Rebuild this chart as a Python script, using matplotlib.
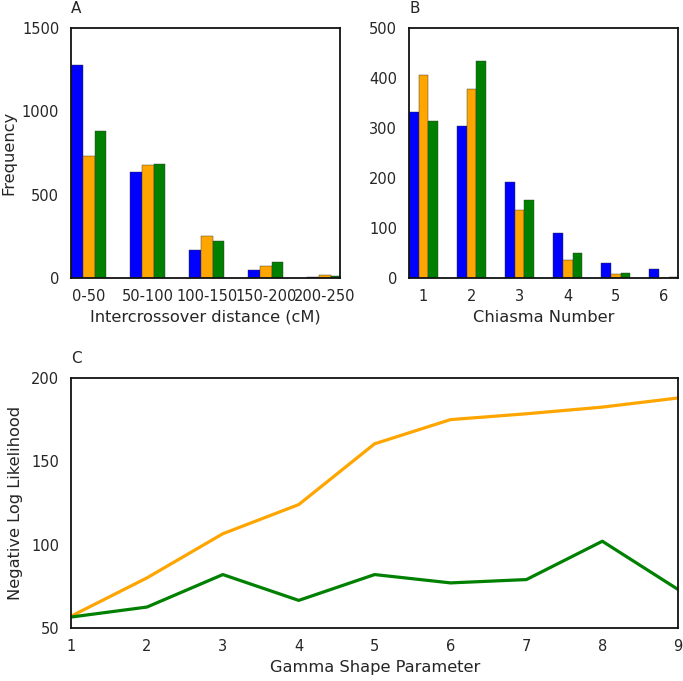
import matplotlib
matplotlib.use("Agg")
import matplotlib.pyplot as plt
import numpy as np

# panel A: intercrossover distance histogram
dist_bins = ['0-50', '50-100', '100-150', '150-200', '200-250']
dist_blue = [1280, 636, 166, 50, 6]
dist_orange = [734, 678, 252, 74, 18]
dist_green = [884, 682, 224, 98, 12]

# panel B: chiasma number
chiasma = [1, 2, 3, 4, 5, 6]
chi_blue = [331, 303, 191, 89, 29, 18]
chi_orange = [406, 378, 135, 35, 8, 0]
chi_green = [314, 433, 156, 49, 9, 2]

# panel C: gamma shape parameter
shape = [1, 2, 3, 4, 5, 6, 7, 8, 9]
nll_orange = [57, 80, 106.5, 124, 160.5, 175, 178.5, 182.5, 188]
nll_green = [56.5, 62.5, 82, 66.5, 82, 77, 79, 102, 73]

blue = '#0000ff'
orange = '#ffa500'
green = '#008000'
txt = '#262626'
fs_tick = 10.5
fs_lab = 11.7

plt.rcParams['font.family'] = 'DejaVu Sans'
plt.rcParams['text.color'] = txt
plt.rcParams['xtick.color'] = txt
plt.rcParams['ytick.color'] = txt
plt.rcParams['axes.labelcolor'] = txt

fig = plt.figure(figsize=(6.83, 6.81), dpi=100)

def style(ax, letter):
    for s in ax.spines.values():
        s.set_linewidth(1.3)
        s.set_color('#111111')
    ax.tick_params(axis='y', length=0, labelsize=fs_tick, pad=8.5)
    ax.tick_params(axis='x', length=0, labelsize=fs_tick, pad=8)
    ax.text(0.0, 1.06, letter, transform=ax.transAxes, fontsize=11, va='baseline')

w = 0.2

# A
axA = fig.add_axes([0.104, 0.592, 0.394, 0.367])
x = np.arange(len(dist_bins))
axA.bar(x - w, dist_blue, w, color=blue, edgecolor='#333333', linewidth=0.3)
axA.bar(x, dist_orange, w, color=orange, edgecolor='#333333', linewidth=0.3)
axA.bar(x + w, dist_green, w, color=green, edgecolor='#333333', linewidth=0.3)
axA.set_xticks(x)
axA.set_xticklabels(dist_bins)
axA.set_xlim(-0.3, 4.26)
axA.set_ylim(0, 1500)
axA.set_yticks([0, 500, 1000, 1500])
axA.set_xlabel('Intercrossover distance (cM)', fontsize=fs_lab, labelpad=4)
axA.set_ylabel('Frequency', fontsize=fs_lab, labelpad=4)
style(axA, 'A')

# B
axB = fig.add_axes([0.599, 0.592, 0.394, 0.367])
xb = np.array(chiasma)
axB.bar(xb - w, chi_blue, w, color=blue, edgecolor='#333333', linewidth=0.3)
axB.bar(xb, chi_orange, w, color=orange, edgecolor='#333333', linewidth=0.3)
axB.bar(xb + w, chi_green, w, color=green, edgecolor='#333333', linewidth=0.3)
axB.set_xticks(xb)
axB.set_xlim(0.7, 6.3)
axB.set_ylim(0, 500)
axB.set_yticks([0, 100, 200, 300, 400, 500])
axB.set_xlabel('Chiasma Number', fontsize=fs_lab, labelpad=4)
style(axB, 'B')

# C
axC = fig.add_axes([0.104, 0.078, 0.889, 0.367])
axC.plot(shape, nll_orange, color=orange, linewidth=2.3)
axC.plot(shape, nll_green, color=green, linewidth=2.3)
axC.set_xlim(1, 9)
axC.set_ylim(50, 200)
axC.set_yticks([50, 100, 150, 200])
axC.set_xticks(shape)
axC.set_xlabel('Gamma Shape Parameter', fontsize=fs_lab, labelpad=4)
axC.set_ylabel('Negative Log Likelihood', fontsize=fs_lab, labelpad=6)
style(axC, 'C')

plt.savefig('out.png', dpi=100)
